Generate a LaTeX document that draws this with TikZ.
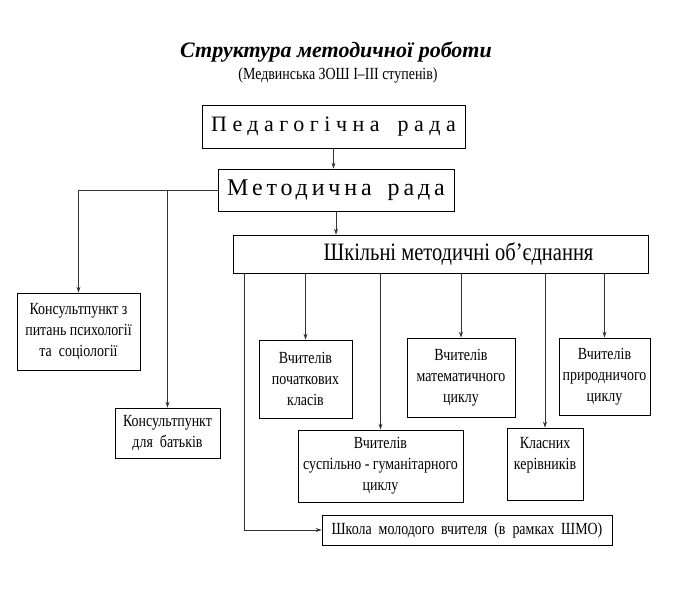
\documentclass[tikz,border=0pt]{standalone}
\usepackage{fontspec}
\setmainfont{Liberation Serif}
\newfontfamily\narrowfont[FakeStretch=0.82]{Liberation Serif}
\newfontfamily\pedfont[LetterSpace=25]{Liberation Serif}
\newfontfamily\metfont[LetterSpace=16]{Liberation Serif}
\usetikzlibrary{arrows.meta}

\begin{document}
\begin{tikzpicture}[x=1pt,y=-1pt,
  box/.style={draw, align=center, inner sep=2pt, line width=0.8pt},
  small/.style={box, font=\narrowfont\fontsize{17}{21}\selectfont},
  arr/.style={-{Stealth[length=6pt,width=4pt]}, line width=0.7pt, draw=black!80}]
\useasboundingbox (0,0) rectangle (684,602);
% titles
\node (title) at (336,52) {\fontsize{22}{26}\selectfont\bfseries\itshape Структура методичної роботи};
\node (subtitle) at (338,75) {\narrowfont\fontsize{17}{19}\selectfont (Медвинська ЗОШ I–III ступенів)};
% upper level
\node[box, minimum width=263, minimum height=43] (ped) at (333.5,126.5) {\pedfont\fontsize{22}{26}\selectfont Педагогічна\hspace{18pt}рада};
\node[box, minimum width=236, minimum height=42] (met) at (336,190) {\metfont\fontsize{24}{28}\selectfont Методична\hspace{16pt}рада};
\node[box, minimum width=415, minimum height=38] (shmo) at (440.5,254) {\narrowfont\fontsize{25}{28}\selectfont\hspace*{36pt}Шкільні\ методичні\ об’єднання};
% consultations
\node[small, minimum width=123, minimum height=77] (kons1) at (78.5,331.5) {Консультпункт з\\питань психології\\та\ \ соціології};
\node[small, minimum width=105, minimum height=50] (kons2) at (167.5,433) {Консультпункт\\для\ \ батьків};
% methodical unions
\node[small, minimum width=93, minimum height=78] (poch) at (305.5,379) {Вчителів\\початкових\\класів};
\node[small, minimum width=108, minimum height=79] (mat) at (461,377.5) {Вчителів\\математичного\\циклу};
\node[small, minimum width=91, minimum height=77] (prir) at (604.5,376.5) {Вчителів\\природничого\\циклу};
\node[small, minimum width=165, minimum height=72] (sus) at (380.5,466) {Вчителів\\суспільно - гуманітарного\\циклу};
\node[small, minimum width=76, minimum height=72] (klas) at (545,464) {Класних\\керівників\\~};
\node[small, minimum width=290, minimum height=30] (shkola) at (467,530) {Школа\ \ молодого\ \ вчителя\ \ (в\ \ рамках\ \ ШМО)};
% connectors
\draw[arr] (ped.south) -- (ped.south |- met.north);
\draw[arr] (met.south) -- (met.south |- shmo.north);
\draw[arr] (met.west) -| (kons1.north);
\draw[arr] (kons2.north |- met.west) -- (kons2.north);
\foreach \unit in {poch,mat,prir,sus,klas}
  \draw[arr] (\unit.north |- shmo.south) -- (\unit.north);
\draw[arr] ([xshift=12pt]shmo.south west) |- (shkola.west);
\end{tikzpicture}
\end{document}
